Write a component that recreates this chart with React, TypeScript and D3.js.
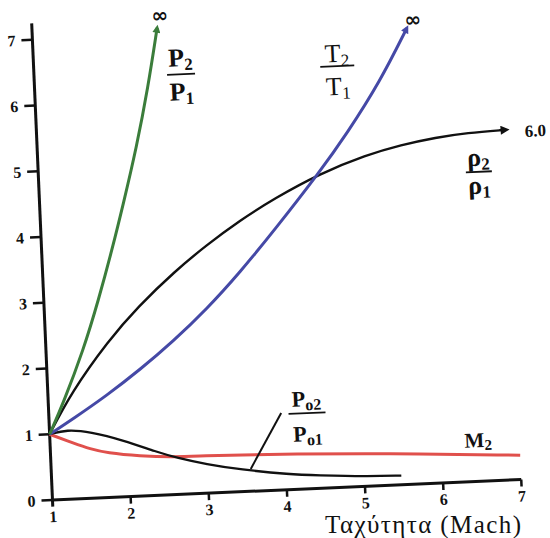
import React from "react";
import * as d3 from "d3";

// Axis ticks
const machTicks = [1, 2, 3, 4, 5, 6, 7];
const ratioTicks = [0, 1, 2, 3, 4, 5, 6, 7];

// p2/p1
const pressureMach = [1, 1.19, 1.48, 1.7, 1.9, 2.07, 2.27, 2.45, 2.6];
const pressureRatio = [1, 1.46, 2.26, 3.01, 3.76, 4.45, 5.3, 6.2, 7.1];

// rho2/rho1
const densityMach = [1, 1.3, 1.8, 2.2, 2.7, 3.1, 3.55, 4.0, 4.6, 5.2, 5.65, 6.1, 6.5, 7.0];
const densityRatio = [1, 1.62, 2.38, 2.88, 3.4, 3.76, 4.12, 4.43, 4.78, 5.03, 5.16, 5.25, 5.3, 5.32];

// T2/T1
const tempMach = [1, 1.31, 1.75, 2.19, 2.63, 3.08, 3.52, 3.97, 4.6, 4.96, 5.42, 5.79];
const tempRatio = [1, 1.22, 1.55, 1.92, 2.33, 2.8, 3.33, 3.93, 4.81, 5.36, 6.14, 6.93];

// M2
const m2Mach = [1, 1.3, 1.51, 1.72, 2.14, 2.57, 2.99, 3.42, 4.06, 5.25, 7.0];
const m2Value = [1, 0.85, 0.75, 0.68, 0.61, 0.57, 0.57, 0.56, 0.54, 0.49, 0.37];

// p02/p01
const p0Mach = [1, 1.22, 1.52, 1.94, 2.36, 2.61, 2.99, 3.41, 4.05, 4.39, 5.03, 5.47];
const p0Ratio = [1, 1.06, 1.01, 0.86, 0.66, 0.56, 0.44, 0.34, 0.23, 0.2, 0.15, 0.14];

const SERIF = "'Liberation Serif', 'DejaVu Serif', 'Times New Roman', serif";
const GREEN = "#3b7d3b";
const BLUE = "#4549a6";
const RED = "#e0504c";
const BLACK = "#111";

export default function App() {
  const x = d3.scaleLinear().domain([1, 7]).range([0, 469.2]);
  const y = d3.scaleLinear().domain([0, 7]).range([0, -460.6]);

  const mk = (ms: number[], vs: number[]) =>
    d3
      .line<[number, number]>()
      .x((d) => x(d[0]))
      .y((d) => y(d[1]))
      .curve(d3.curveBasis)(d3.zip(ms, vs) as [number, number][]) || "";

  const frac = (
    mx: number,
    vy: number,
    top: string,
    topSub: string,
    bot: string,
    botSub: string,
    size: number,
    weight: string,
    w: number,
    upOff: number,
    downOff: number,
    subSize: number
  ) => {
    const cx = x(mx);
    const cy = y(vy);
    return (
      <g fontFamily={SERIF} fontWeight={weight} fill={BLACK}>
        <text x={cx} y={cy - upOff} textAnchor="middle" fontSize={size}>
          {top}
          <tspan fontSize={subSize} dy={4}>{topSub}</tspan>
        </text>
        <line x1={cx - w / 2} x2={cx + w / 2} y1={cy} y2={cy} stroke={BLACK} strokeWidth={1.8} />
        <text x={cx} y={cy + downOff} textAnchor="middle" fontSize={size}>
          {bot}
          <tspan fontSize={subSize} dy={4}>{botSub}</tspan>
        </text>
      </g>
    );
  };

  return (
    <svg
      width={550}
      height={538}
      style={{ position: "absolute", left: 0, top: 0, background: "#fff" }}
    >
      <defs>
        <marker id="arrG" viewBox="0 0 10 10" refX="6" refY="5" markerWidth="9" markerHeight="8" markerUnits="userSpaceOnUse" orient="auto">
          <path d="M0,0L10,5L0,10z" fill={GREEN} />
        </marker>
        <marker id="arrB" viewBox="0 0 10 10" refX="6" refY="5" markerWidth="9" markerHeight="8" markerUnits="userSpaceOnUse" orient="auto">
          <path d="M0,0L10,5L0,10z" fill={BLUE} />
        </marker>
        <marker id="arrK" viewBox="0 0 10 10" refX="6" refY="5" markerWidth="13" markerHeight="9" markerUnits="userSpaceOnUse" orient="auto">
          <path d="M0,0L10,5L0,10z" fill={BLACK} />
        </marker>
      </defs>
      <g transform="translate(52.5,500) rotate(-2.5)">
        {/* Y axis */}
        <line x1={0} x2={0} y1={y(-0.1)} y2={y(7.25)} stroke={BLACK} strokeWidth={3} />
        {ratioTicks.map((t) => (
          <g key={"yt" + t}>
            <line x1={-11} x2={0} y1={y(t)} y2={y(t)} stroke={BLACK} strokeWidth={2.5} />
            <text
              x={-21}
              y={y(t)}
              dy="0.35em"
              textAnchor="middle"
              fontFamily={SERIF}
              fontWeight="bold"
              fontSize={16}
              fill={BLACK}
            >
              {t}
            </text>
          </g>
        ))}
        {/* X axis */}
        <line x1={x(1)} x2={x(7)} y1={y(0)} y2={y(0)} stroke={BLACK} strokeWidth={3} />
        {machTicks.map((t) => (
          <g key={"xt" + t}>
            <line x1={x(t)} x2={x(t)} y1={0} y2={t === 1 ? 0 : 7} stroke={BLACK} strokeWidth={2.5} />
            <text
              x={x(t)}
              y={22}
              textAnchor="middle"
              fontFamily={SERIF}
              fontWeight="bold"
              fontSize={16}
              fill={BLACK}
            >
              {t}
            </text>
          </g>
        ))}

        {/* Curves */}
        <path d={mk(m2Mach, m2Value)} fill="none" stroke={RED} strokeWidth={3} />
        <path d={mk(p0Mach, p0Ratio)} fill="none" stroke={BLACK} strokeWidth={2.3} />
        <path d={mk(densityMach, densityRatio)} fill="none" stroke={BLACK} strokeWidth={2.4} markerEnd="url(#arrK)" />
        <path d={mk(tempMach, tempRatio)} fill="none" stroke={BLUE} strokeWidth={3} markerEnd="url(#arrB)" />
        <path d={mk(pressureMach, pressureRatio)} fill="none" stroke={GREEN} strokeWidth={3} markerEnd="url(#arrG)" />

        {/* Leader line for p02/p01 */}
        <line x1={x(3.55)} y1={y(0.34)} x2={x(3.97)} y2={y(1.17)} stroke={BLACK} strokeWidth={2} />

        {/* Labels */}
        {frac(2.88, 6.38, "P", "2", "P", "1", 26, "bold", 28, 8, 26, 17)}
        {frac(4.88, 6.4, "T", "2", "T", "1", 26, "normal", 34, 4, 29, 17)}
        {frac(6.63, 4.7, "ρ", "2", "ρ", "1", 26, "bold", 26, 6, 22, 17)}
        {frac(4.3, 1.15, "P", "o2", "P", "o1", 22, "bold", 37, 7, 28, 16)}

        <text x={x(6.47)} y={y(0.52)} textAnchor="middle" fontFamily={SERIF} fontWeight="bold" fontSize={21} fill={BLACK}>
          M<tspan fontSize={15} dy={3}>2</tspan>
        </text>
        <text x={x(2.64)} y={y(7.29)} dy="0.35em" textAnchor="middle" fontFamily="'DejaVu Sans', sans-serif" fontWeight="bold" fontSize={20} fill={BLACK}>
          ∞
        </text>
        <text x={x(5.87)} y={y(7.06)} dy="0.35em" textAnchor="middle" fontFamily="'DejaVu Sans', sans-serif" fontWeight="bold" fontSize={20} fill={BLACK}>
          ∞
        </text>
        <text x={x(7.24)} y={y(5.29)} dy="0.35em" textAnchor="start" fontFamily={SERIF} fontWeight="bold" fontSize={17} fill={BLACK}>
          6.0
        </text>
      </g>
      <text x={521} y={533} textAnchor="end" fontFamily={SERIF} fontSize={25} textLength={196} lengthAdjust="spacing" fill={BLACK}>
        Ταχύτητα (Mach)
      </text>
    </svg>
  );
}
